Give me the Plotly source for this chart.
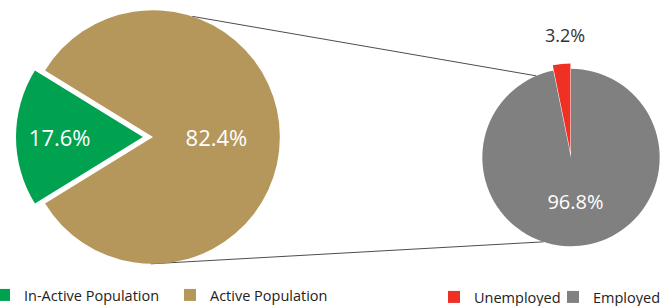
import plotly.graph_objects as go
import math

# ---- data ----
pop_labels = ["In-Active Population", "Active Population"]
pop_values = [17.6, 82.4]
pop_colors = ["#00A14F", "#B5975B"]

emp_labels = ["Unemployed", "Employed"]
emp_values = [3.2, 96.8]
emp_colors = ["#EE3124", "#808080"]

# ---- geometry (pixels) ----
W, H = 665, 306
FONT = "Open Sans"

L_cx, L_cy, L_half, L_pull = 153, 137, 137, 0.08
R_cx, R_cy, R_half, R_pull = 571, 157.5, 94, 0.06
L_r = L_half / (1 + L_pull)
R_r = R_half / (1 + R_pull)

def dom(cx, cy, half):
    return dict(x=[(cx - half) / W, min(1, (cx + half) / W)],
                y=[max(0, (H - cy - half) / H), min(1, (H - cy + half) / H)])

# start angle so the In-Active slice is centred on 9 o'clock
l_span = 360 * pop_values[0] / sum(pop_values)
l_rot = 270 - l_span / 2 - 360
r_span = 360 * emp_values[0] / sum(emp_values)
r_rot = -r_span

fig = go.Figure()
fig.add_trace(go.Pie(
    labels=pop_labels, values=pop_values, sort=False, direction="clockwise",
    rotation=l_rot, pull=[L_pull, 0],
    marker=dict(colors=pop_colors, line=dict(width=0)),
    texttemplate="%{percent:.1%}", textposition="inside",
    insidetextorientation="horizontal",
    insidetextfont=dict(color="white", size=22, family=FONT),
    domain=dom(L_cx, L_cy, L_half), legend="legend", hoverinfo="label+percent",
))
fig.add_trace(go.Pie(
    labels=emp_labels, values=emp_values, sort=False, direction="clockwise",
    rotation=r_rot, pull=[R_pull, 0],
    marker=dict(colors=emp_colors, line=dict(width=0)),
    texttemplate=["", "%{percent:.1%}"], textposition=["none", "inside"],
    insidetextorientation="horizontal",
    insidetextfont=dict(color="white", size=20, family=FONT),
    domain=dom(R_cx, R_cy, R_half), legend="legend2", hoverinfo="label+percent",
))

def pt(cx, cy, r, ang):
    a = math.radians(ang)
    return (cx + r * math.sin(a)) / W, (H - (cy - r * math.cos(a))) / H

# label for the small (pulled) slice, placed just above it
ax, ay = pt(R_cx, R_cy, R_r * (1 + R_pull) + 29, -r_span / 4)
fig.add_annotation(x=ax, y=ay, xref="paper", yref="paper", showarrow=False,
                   xanchor="center", yanchor="middle",
                   text=f"{100 * emp_values[0] / sum(emp_values):.1f}%",
                   font=dict(size=18, color="#333333", family=FONT))

shapes = []
for (la, ra) in [(18, 337), (181, 198)]:
    x0, y0 = pt(L_cx, L_cy, L_r, la)
    x1, y1 = pt(R_cx, R_cy, R_r, ra)
    shapes.append(dict(type="line", xref="paper", yref="paper", x0=x0, y0=y0,
                       x1=x1, y1=y1, line=dict(color="#4d4d4d", width=1), layer="below"))

fig.update_layout(
    width=W, height=H, margin=dict(l=0, r=0, t=0, b=0, autoexpand=False),
    paper_bgcolor="white", plot_bgcolor="white",
    font=dict(family=FONT, size=14, color="#222222"),
    shapes=shapes,
    legend=dict(orientation="h", x=-16 / W, xanchor="left", y=-5 / H, yanchor="bottom",
                font=dict(size=14.5, color="#222222"), itemwidth=30,
                entrywidth=141, entrywidthmode="pixels", bgcolor="rgba(0,0,0,0)"),
    legend2=dict(orientation="h", x=434 / W, xanchor="left", y=-7 / H, yanchor="bottom",
                 font=dict(size=14.5, color="#222222"), itemwidth=30,
                 entrywidth=74, entrywidthmode="pixels", bgcolor="rgba(0,0,0,0)"),
)

fig.write_html("out.html", post_script="document.body.style.margin='0';",
               config={"displayModeBar": False})
